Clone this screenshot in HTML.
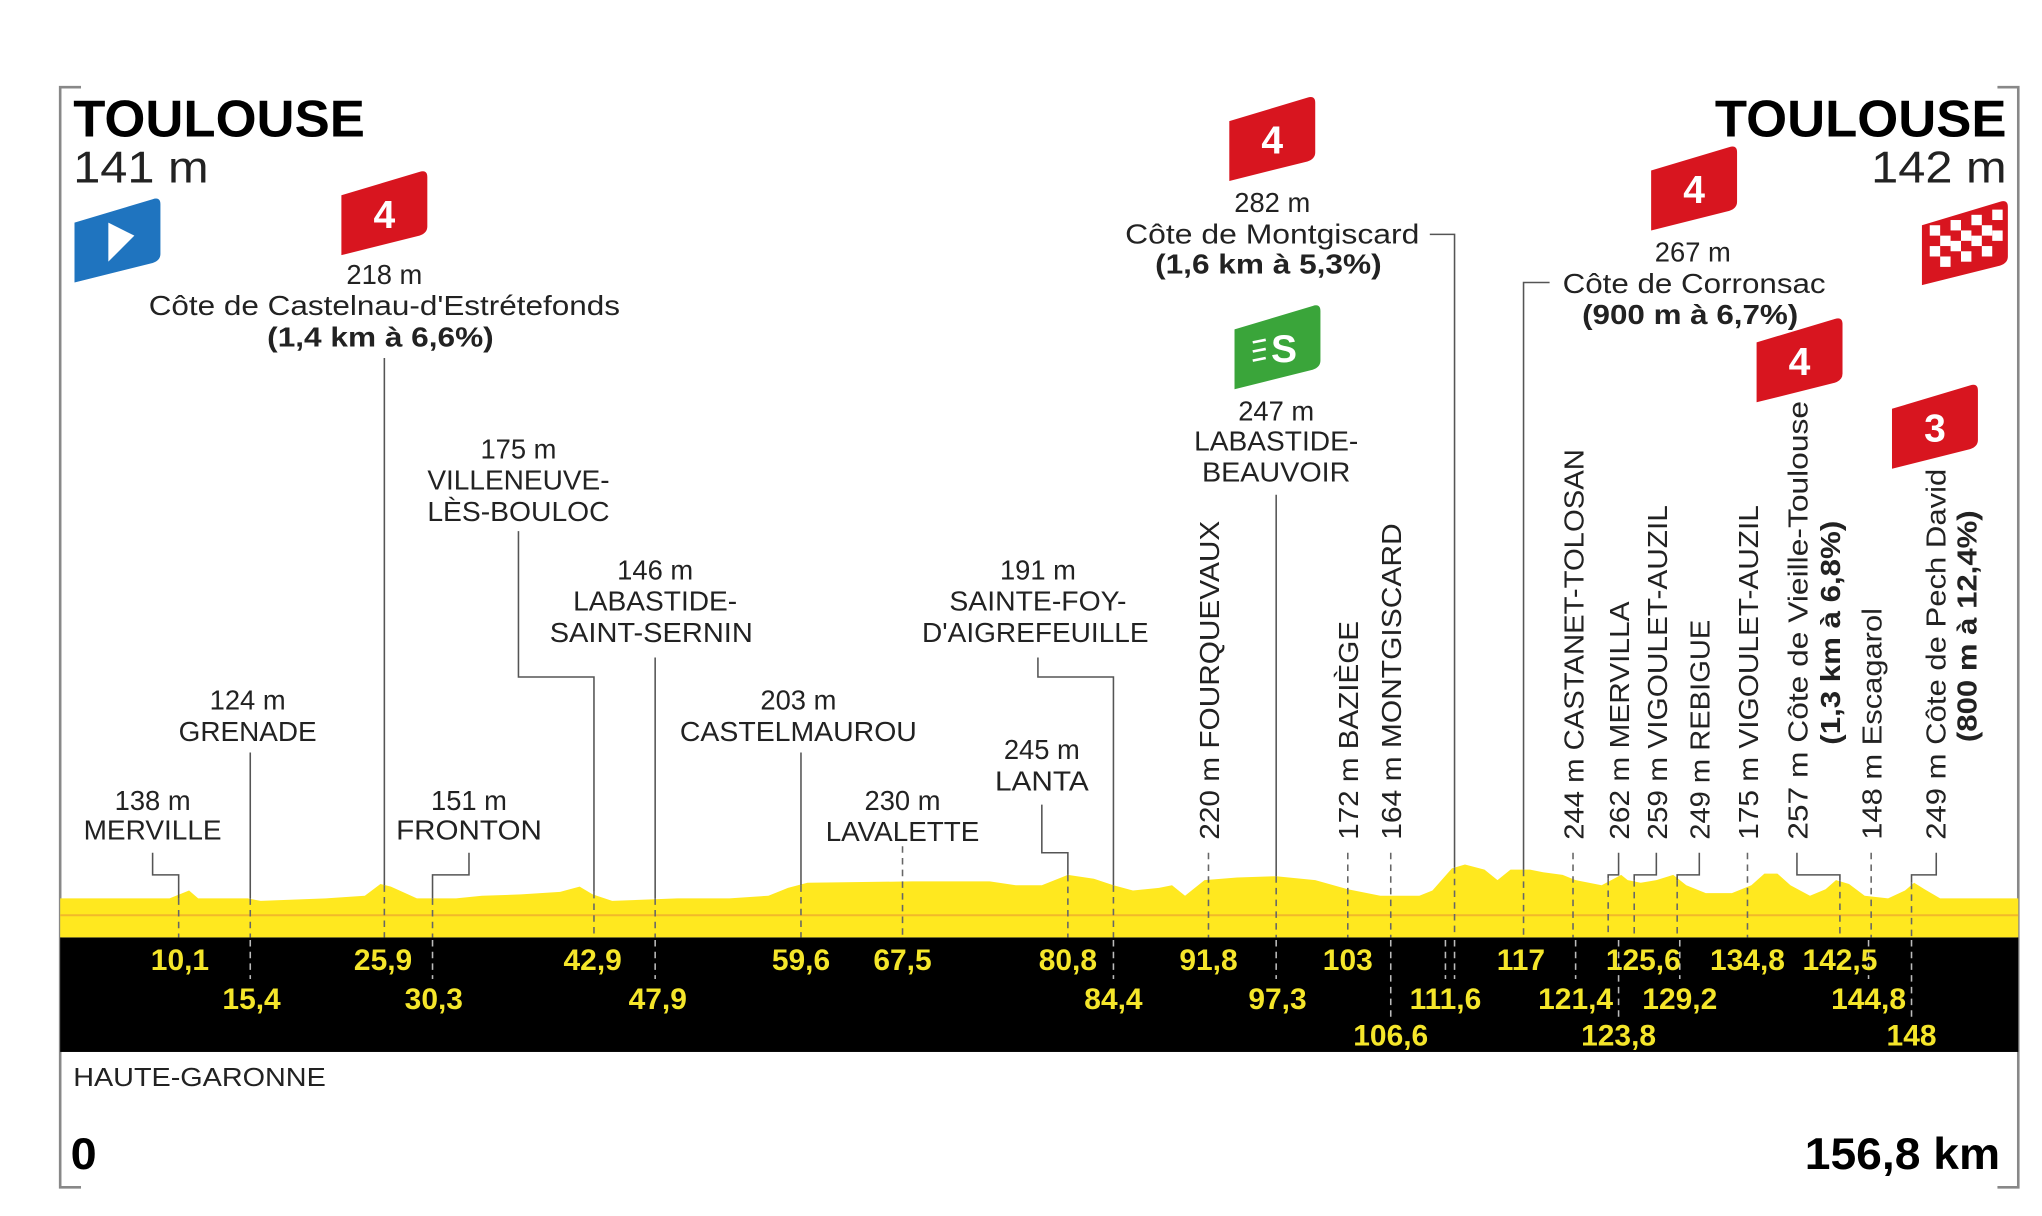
<!DOCTYPE html>
<html><head><meta charset="utf-8"><style>
html,body{margin:0;padding:0;background:#fff;}
svg{display:block}
text{font-family:"Liberation Sans",sans-serif;}
</style></head><body>
<svg width="2042" height="1216" viewBox="0 0 1568 934" xmlns="http://www.w3.org/2000/svg">
<defs>
<path id="flag" d="M0,18 L60,0 Q66,-2 66,4 L66,42 Q66,47 60,49 L0,64 Z"/>
</defs>
<g stroke="#888" stroke-width="2" fill="none">
<path d="M62,67 L46,67 L46,912 L62,912"/>
<path d="M1534,67 L1550,67 L1550,912 L1534,912"/>
</g>
<rect x="46" y="720" width="1504" height="88" fill="#000"/>
<polygon fill="#ffe81f" points="46,690 130,690 140,686 145,684 152,690 190,690 200,692 250,690 280,688 292,679 300,681 320,690 350,690 370,688 400,687 430,685 445,681 455,687 470,692 520,690 560,690 590,688 605,682 620,678 700,677 760,677 780,680 800,680 820,672 840,675 855,680 870,684 890,682 900,680 910,688 925,676 950,674 980,673 1010,676 1035,683 1060,688 1090,688 1100,684 1115,667 1125,664 1140,668 1150,676 1160,668 1175,668 1185,670 1200,672 1210,676 1230,680 1245,672 1250,676 1260,678 1272,676 1285,672 1295,680 1310,686 1330,686 1345,680 1355,671 1365,671 1375,680 1390,688 1402,683 1410,676 1420,679 1432,688 1450,690 1463,684 1470,678 1478,683 1490,690 1550,690 1550,720 46,720"/>
<line x1="46" y1="703" x2="1550" y2="703" stroke="#f2b82a" stroke-width="1.5"/>

<text x="56" y="105" font-size="40" font-weight="bold" textLength="224" lengthAdjust="spacingAndGlyphs">TOULOUSE</text>
<text x="56" y="140" font-size="34" fill="#222" textLength="104" lengthAdjust="spacingAndGlyphs">141 m</text>
<text x="1541" y="105" font-size="40" font-weight="bold" text-anchor="end" textLength="224" lengthAdjust="spacingAndGlyphs">TOULOUSE</text>
<text x="1541" y="140" font-size="34" fill="#222" text-anchor="end" textLength="104" lengthAdjust="spacingAndGlyphs">142 m</text>

<g transform="translate(57,153)"><use href="#flag" fill="#1f74bf"/><polygon points="26,18 46,28 26,48" fill="#fff"/></g>
<g transform="translate(1476,155)"><use href="#flag" fill="#d8151f"/>
<g fill="#fff"><rect x="6" y="18" width="8" height="8"/><rect x="22" y="14" width="8" height="8"/><rect x="38" y="10" width="8" height="8"/><rect x="54" y="6" width="8" height="8"/><rect x="14" y="26" width="8" height="8"/><rect x="30" y="22" width="8" height="8"/><rect x="46" y="18" width="8" height="8"/><rect x="6" y="34" width="8" height="8"/><rect x="22" y="30" width="8" height="8"/><rect x="38" y="26" width="8" height="8"/><rect x="54" y="22" width="8" height="8"/><rect x="14" y="42" width="8" height="8"/><rect x="30" y="38" width="8" height="8"/><rect x="46" y="34" width="8" height="8"/></g></g>
<g font-size="30" font-weight="bold" fill="#fff" text-anchor="middle">
<g transform="translate(262,132)"><use href="#flag" fill="#d8151f"/><text x="33" y="43">4</text></g>
<g transform="translate(944,75)"><use href="#flag" fill="#d8151f"/><text x="33" y="43">4</text></g>
<g transform="translate(1268,113)"><use href="#flag" fill="#d8151f"/><text x="33" y="43">4</text></g>
<g transform="translate(1349,245)"><use href="#flag" fill="#d8151f"/><text x="33" y="43">4</text></g>
<g transform="translate(1453,296)"><use href="#flag" fill="#d8151f"/><text x="33" y="43">3</text></g>
<g transform="translate(948,235)"><use href="#flag" fill="#3aa53a"/><text x="38" y="43">S</text><g stroke="#fff" stroke-width="2"><line x1="14" y1="28" x2="24" y2="26"/><line x1="14" y1="35" x2="24" y2="33"/><line x1="14" y1="42" x2="24" y2="40"/></g></g>
</g>

<g stroke="#555" stroke-width="1.2" fill="none">
<path d="M117,655 V672 H137 V690"/>
<path d="M192,578 V690"/>
<path d="M295,275 V680"/>
<path d="M398,408 V520 H456 V685"/>
<path d="M360,655 V672 H332 V690"/>
<path d="M503,505 V690"/>
<path d="M615,578 V680"/>
<path d="M797,505 V520 H855 V680"/>
<path d="M800,618 V655 H820 V672"/>
<path d="M1098,180 H1117 V666"/>
<path d="M980,380 V673"/>
<path d="M1190,217 H1170 V668"/>
<path d="M1243,655 V672 H1235 V675"/>
<path d="M1272,655 V672 H1255 V676"/>
<path d="M1305,655 V672 H1288 V676"/>
<path d="M1380,655 V672 H1413 V676"/>
<path d="M1487,655 V672 H1468 V678"/>
</g>
<g stroke="#666" stroke-width="1.2" stroke-dasharray="5,4" fill="none">
<path d="M137,690 V720 M192,690 V720 M295,680 V720 M456,685 V720 M332,690 V720 M503,690 V720 M615,680 V720 M693,650 V720 M855,680 V720 M820,672 V720 M928,655 V720 M980,673 V720 M1035,655 V720 M1068,655 V720 M1117,666 V720 M1170,668 V720 M1208,655 V720 M1235,675 V720 M1255,676 V720 M1288,676 V720 M1342,655 V720 M1413,676 V720 M1437,655 V720 M1468,678 V720"/>
</g>
<g stroke="#bbb" stroke-width="1.2" stroke-dasharray="5,4" fill="none">
<path d="M192,722 V752 M332,722 V752 M503,722 V752 M855,722 V752 M980,722 V752 M1068,722 V782 M1110,722 V752 M1117,722 V752 M1210,722 V752 M1243,722 V782 M1290,722 V752 M1435,722 V752 M1468,722 V782"/>
</g>

<g font-size="21" fill="#222" text-anchor="middle">
<text x="295" y="218">218 m</text>
<text x="295" y="242" textLength="362" lengthAdjust="spacingAndGlyphs">Côte de Castelnau-d'Estrétefonds</text>
<text x="292" y="266" font-weight="bold" textLength="174" lengthAdjust="spacingAndGlyphs">(1,4 km à 6,6%)</text>
<text x="398" y="352">175 m</text>
<text x="398" y="376" textLength="140" lengthAdjust="spacingAndGlyphs">VILLENEUVE-</text>
<text x="398" y="400" textLength="140" lengthAdjust="spacingAndGlyphs">LÈS-BOULOC</text>
<text x="503" y="445">146 m</text>
<text x="503" y="469" textLength="126" lengthAdjust="spacingAndGlyphs">LABASTIDE-</text>
<text x="500" y="493" textLength="156" lengthAdjust="spacingAndGlyphs">SAINT-SERNIN</text>
<text x="190" y="545">124 m</text>
<text x="190" y="569" textLength="106" lengthAdjust="spacingAndGlyphs">GRENADE</text>
<text x="613" y="545">203 m</text>
<text x="613" y="569" textLength="182" lengthAdjust="spacingAndGlyphs">CASTELMAUROU</text>
<text x="117" y="622">138 m</text>
<text x="117" y="645" textLength="106" lengthAdjust="spacingAndGlyphs">MERVILLE</text>
<text x="360" y="622">151 m</text>
<text x="360" y="645" textLength="112" lengthAdjust="spacingAndGlyphs">FRONTON</text>
<text x="693" y="622">230 m</text>
<text x="693" y="646" textLength="118" lengthAdjust="spacingAndGlyphs">LAVALETTE</text>
<text x="797" y="445">191 m</text>
<text x="797" y="469" textLength="136" lengthAdjust="spacingAndGlyphs">SAINTE-FOY-</text>
<text x="795" y="493" textLength="174" lengthAdjust="spacingAndGlyphs">D'AIGREFEUILLE</text>
<text x="800" y="583">245 m</text>
<text x="800" y="607" textLength="72" lengthAdjust="spacingAndGlyphs">LANTA</text>
<text x="977" y="163">282 m</text>
<text x="977" y="187" textLength="226" lengthAdjust="spacingAndGlyphs">Côte de Montgiscard</text>
<text x="974" y="210" font-weight="bold" textLength="174" lengthAdjust="spacingAndGlyphs">(1,6 km à 5,3%)</text>
<text x="980" y="323">247 m</text>
<text x="980" y="346" textLength="126" lengthAdjust="spacingAndGlyphs">LABASTIDE-</text>
<text x="980" y="370" textLength="114" lengthAdjust="spacingAndGlyphs">BEAUVOIR</text>
<text x="1300" y="201">267 m</text>
<text x="1301" y="225" textLength="202" lengthAdjust="spacingAndGlyphs">Côte de Corronsac</text>
<text x="1298" y="249" font-weight="bold" textLength="166" lengthAdjust="spacingAndGlyphs">(900 m à 6,7%)</text>
</g>

<g font-size="21" fill="#222">
<text transform="translate(936,645) rotate(-90)" textLength="245" lengthAdjust="spacingAndGlyphs">220 m FOURQUEVAUX</text>
<text transform="translate(1043,645) rotate(-90)" textLength="168" lengthAdjust="spacingAndGlyphs">172 m BAZIÈGE</text>
<text transform="translate(1076,645) rotate(-90)" textLength="243" lengthAdjust="spacingAndGlyphs">164 m MONTGISCARD</text>
<text transform="translate(1216,645) rotate(-90)" textLength="300" lengthAdjust="spacingAndGlyphs">244 m CASTANET-TOLOSAN</text>
<text transform="translate(1251,645) rotate(-90)" textLength="183" lengthAdjust="spacingAndGlyphs">262 m MERVILLA</text>
<text transform="translate(1280,645) rotate(-90)" textLength="257" lengthAdjust="spacingAndGlyphs">259 m VIGOULET-AUZIL</text>
<text transform="translate(1313,645) rotate(-90)" textLength="169" lengthAdjust="spacingAndGlyphs">249 m REBIGUE</text>
<text transform="translate(1350,645) rotate(-90)" textLength="257" lengthAdjust="spacingAndGlyphs">175 m VIGOULET-AUZIL</text>
<text transform="translate(1388,645) rotate(-90)" textLength="337" lengthAdjust="spacingAndGlyphs">257 m Côte de Vieille-Toulouse</text>
<text transform="translate(1413,572) rotate(-90)" font-weight="bold" textLength="172" lengthAdjust="spacingAndGlyphs">(1,3 km à 6,8%)</text>
<text transform="translate(1445,645) rotate(-90)" textLength="178" lengthAdjust="spacingAndGlyphs">148 m Escagarol</text>
<text transform="translate(1494,645) rotate(-90)" textLength="285" lengthAdjust="spacingAndGlyphs">249 m Côte de Pech David</text>
<text transform="translate(1518,570) rotate(-90)" font-weight="bold" textLength="178" lengthAdjust="spacingAndGlyphs">(800 m à 12,4%)</text>
</g>

<g font-size="23" font-weight="bold" fill="#f5e62a" text-anchor="middle">
<text x="138" y="745">10,1</text><text x="294" y="745">25,9</text><text x="455" y="745">42,9</text><text x="615" y="745">59,6</text><text x="693" y="745">67,5</text><text x="820" y="745">80,8</text><text x="928" y="745">91,8</text><text x="1035" y="745">103</text><text x="1168" y="745">117</text><text x="1262" y="745">125,6</text><text x="1342" y="745">134,8</text><text x="1413" y="745">142,5</text>
<text x="193" y="775">15,4</text><text x="333" y="775">30,3</text><text x="505" y="775">47,9</text><text x="855" y="775">84,4</text><text x="981" y="775">97,3</text><text x="1110" y="775">111,6</text><text x="1210" y="775">121,4</text><text x="1290" y="775">129,2</text><text x="1435" y="775">144,8</text>
<text x="1068" y="803">106,6</text><text x="1243" y="803">123,8</text><text x="1468" y="803">148</text>
</g>

<text x="56" y="834" font-size="20" fill="#222" textLength="194" lengthAdjust="spacingAndGlyphs">HAUTE-GARONNE</text>
<text x="54" y="898" font-size="34" font-weight="bold" textLength="20" lengthAdjust="spacingAndGlyphs">0</text>
<text x="1536" y="898" font-size="34" font-weight="bold" text-anchor="end" textLength="150" lengthAdjust="spacingAndGlyphs">156,8 km</text>
</svg>
</body></html>
